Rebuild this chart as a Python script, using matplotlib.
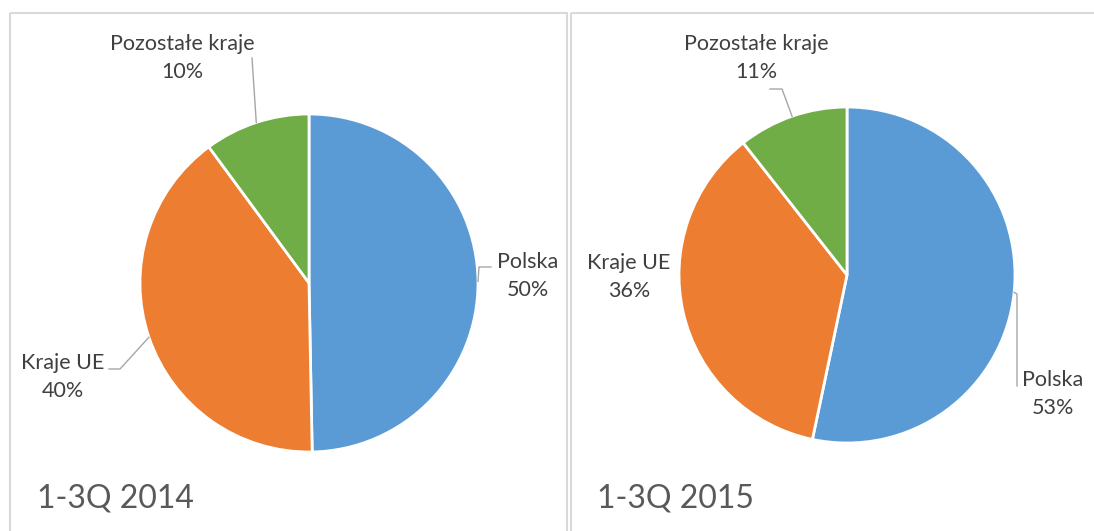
import numpy as np
import matplotlib.pyplot as plt
from matplotlib.patches import Rectangle

plt.rcParams['font.family'] = ['Lato', 'DejaVu Sans']

categories = ['Polska', 'Kraje UE', 'Pozostałe kraje']
colors = ['#5B9BD5', '#ED7D31', '#70AD47']
vals_2014 = [49.7, 40.2, 10.1]
vals_2015 = [53.3, 36.1, 10.6]
titles = ['1-3Q 2014', '1-3Q 2015']

W, H = 1094, 531
fig = plt.figure(figsize=(W / 100, H / 100), dpi=100)
ax = fig.add_axes([0, 0, 1, 1])

# panel frames
for x0, x1 in [(10, 567), (571, W + 5)]:
    ax.add_patch(Rectangle((x0, 13), x1 - x0, H, fill=False,
                           edgecolor='#d9d9d9', lw=1.5))

lc = '#a6a6a6'
tc = '#404040'
fs = 15.5


def draw_pie(vals, center, r):
    wedges, _ = ax.pie(vals, colors=colors, startangle=-90, counterclock=True,
                       center=center, radius=r, frame=True,
                       wedgeprops=dict(edgecolor='white', linewidth=2))
    anchors = []
    for w in wedges:
        a = np.deg2rad((w.theta1 + w.theta2) / 2)
        anchors.append((center[0] + r * np.cos(a), center[1] + r * np.sin(a)))
    return anchors


def label(x, y, name, v):
    ax.text(x, y, name + '\n' + f'{v:.0f}%', ha='center', va='center',
            fontsize=fs, color=tc, linespacing=1.45)


# 2014
anc = draw_pie(vals_2014, (309, 283), 169)
label(528, 276, categories[0], vals_2014[0])
ax.plot([anc[0][0], 479, 491], [anc[0][1], 267, 267], color=lc, lw=1)
label(63, 377, categories[1], vals_2014[1])
ax.plot([anc[1][0], 120, 109], [anc[1][1], 369, 369], color=lc, lw=1)
label(182, 58, categories[2], vals_2014[2])
ax.plot([anc[2][0], 252], [anc[2][1], 58], color=lc, lw=1)

# 2015
anc = draw_pie(vals_2015, (847, 275), 168)
label(1053, 394, categories[0], vals_2015[0])
ax.plot([anc[0][0], 1017, 1017], [anc[0][1], 294, 386], color=lc, lw=1)
label(629, 277, categories[1], vals_2015[1])
label(756, 58, categories[2], vals_2015[2])
ax.plot([anc[2][0], 782, 770], [anc[2][1], 89, 89], color=lc, lw=1)

# pie() resets limits/aspect, so set pixel coords afterwards (y going down)
ax.set_xlim(0, W)
ax.set_ylim(H, 0)
ax.set_aspect('auto')
ax.axis('off')

ax.text(37, 499, titles[0], fontsize=23, color='#595959', va='center')
ax.text(597, 499, titles[1], fontsize=23, color='#595959', va='center')

fig.savefig('out.png', dpi=100)
